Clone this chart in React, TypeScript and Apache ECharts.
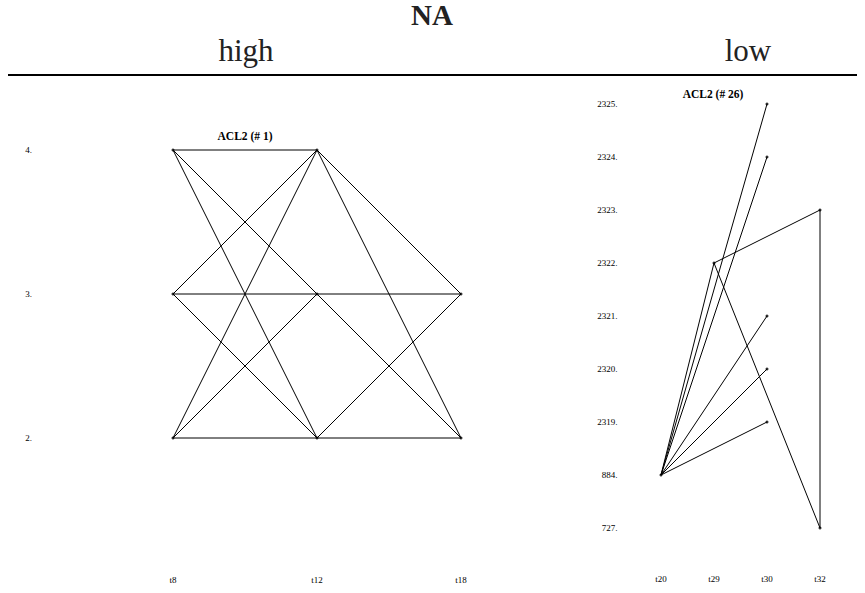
import React, { useEffect, useRef } from "react";
import * as echarts from "echarts";

const leftX = ["t8", "t12", "t18"];
const leftY = ["2", "3", "4"];
// edges: [fromX, fromY, toX, toY]
const leftEdges: string[][] = [
  ["t8", "4", "t12", "4"],
  ["t8", "4", "t12", "3"],
  ["t8", "4", "t12", "2"],
  ["t8", "3", "t12", "4"],
  ["t8", "3", "t12", "3"],
  ["t8", "3", "t12", "2"],
  ["t8", "2", "t12", "4"],
  ["t8", "2", "t12", "3"],
  ["t8", "2", "t12", "2"],
  ["t12", "4", "t18", "3"],
  ["t12", "4", "t18", "2"],
  ["t12", "3", "t18", "3"],
  ["t12", "3", "t18", "2"],
  ["t12", "2", "t18", "3"],
  ["t12", "2", "t18", "2"],
];

const rightX = ["t20", "t29", "t30", "t32"];
const rightY = ["727", "884", "2319", "2320", "2321", "2322", "2323", "2324", "2325"];
const rightEdges: string[][] = [
  ["t20", "884", "t29", "2322"],
  ["t20", "884", "t30", "2325"],
  ["t20", "884", "t30", "2324"],
  ["t20", "884", "t30", "2321"],
  ["t20", "884", "t30", "2320"],
  ["t20", "884", "t30", "2319"],
  ["t29", "2322", "t32", "2323"],
  ["t29", "2322", "t32", "727"],
  ["t32", "2323", "t32", "727"],
];

const FONT = "'Liberation Serif', 'DejaVu Serif', serif";

export default function App() {
  const ref = useRef<HTMLDivElement>(null);
  useEffect(() => {
    if (!ref.current) return;
    const chart = echarts.init(ref.current, undefined, { renderer: "svg" });

    const mkSeries = (
      edges: string[][],
      xs: string[],
      ys: string[],
      idx: number
    ) => {
      const series: any[] = edges.map((e) => ({
        type: "line",
        xAxisIndex: idx,
        yAxisIndex: idx,
        symbol: "none",
        silent: true,
        lineStyle: { color: "#000", width: 1 },
        data: [
          [xs.indexOf(e[0]), ys.indexOf(e[1])],
          [xs.indexOf(e[2]), ys.indexOf(e[3])],
        ],
      }));
      const pts: string[] = [];
      const pdata: number[][] = [];
      edges.forEach((e) => {
        [
          [e[0], e[1]],
          [e[2], e[3]],
        ].forEach(([x, y]) => {
          const k = x + "|" + y;
          if (pts.indexOf(k) < 0) {
            pts.push(k);
            pdata.push([xs.indexOf(x), ys.indexOf(y)]);
          }
        });
      });
      series.push({
        type: "scatter",
        xAxisIndex: idx,
        yAxisIndex: idx,
        symbolSize: 3,
        silent: true,
        itemStyle: { color: "#000" },
        data: pdata,
      });
      return series;
    };

    const axisCommon = {
      type: "category",
      boundaryGap: true,
      axisLine: { show: false },
      axisTick: { show: false },
      splitLine: { show: false },
    };
    const labelStyle = { fontFamily: FONT, fontSize: 9, color: "#000" };

    chart.setOption({
      animation: false,
      grid: [
        { left: 101, top: 78, width: 432, height: 432 },
        { left: 634.5, top: 77.5, width: 212, height: 477 },
      ],
      xAxis: [
        {
          ...axisCommon,
          gridIndex: 0,
          data: leftX,
          axisLabel: { ...labelStyle, margin: 65 },
        },
        {
          ...axisCommon,
          gridIndex: 1,
          data: rightX,
          axisLabel: { ...labelStyle, margin: 20 },
        },
      ],
      yAxis: [
        {
          ...axisCommon,
          gridIndex: 0,
          data: leftY,
          axisLabel: { ...labelStyle, margin: 69, formatter: (v: string) => v + "." },
        },
        {
          ...axisCommon,
          gridIndex: 1,
          data: rightY,
          axisLabel: { ...labelStyle, margin: 17, formatter: (v: string) => v + "." },
        },
      ],
      graphic: [
        {
          type: "text",
          x: 432,
          y: 15,
          style: {
            text: "NA",
            fontFamily: FONT,
            fontSize: 29,
            fontWeight: "bold",
            fill: "#222",
            align: "center",
            verticalAlign: "middle",
          },
        },
        {
          type: "text",
          x: 246,
          y: 50,
          style: {
            text: "high",
            fontFamily: FONT,
            fontSize: 31,
            fill: "#222",
            align: "center",
            verticalAlign: "middle",
          },
        },
        {
          type: "text",
          x: 748,
          y: 50,
          style: {
            text: "low",
            fontFamily: FONT,
            fontSize: 31,
            fill: "#222",
            align: "center",
            verticalAlign: "middle",
          },
        },
        {
          type: "line",
          shape: { x1: 8, y1: 75, x2: 857, y2: 75 },
          style: { stroke: "#000", lineWidth: 2 },
        },
        {
          type: "text",
          x: 245,
          y: 136,
          style: {
            text: "ACL2 (# 1)",
            fontFamily: FONT,
            fontSize: 11.5,
            fontWeight: "bold",
            fill: "#000",
            align: "center",
            verticalAlign: "middle",
          },
        },
        {
          type: "text",
          x: 713,
          y: 94,
          style: {
            text: "ACL2 (# 26)",
            fontFamily: FONT,
            fontSize: 11.5,
            fontWeight: "bold",
            fill: "#000",
            align: "center",
            verticalAlign: "middle",
          },
        },
      ],
      series: [
        ...mkSeries(leftEdges, leftX, leftY, 0),
        ...mkSeries(rightEdges, rightX, rightY, 1),
      ],
    });
    return () => chart.dispose();
  }, []);
  return (
    <div
      ref={ref}
      style={{ position: "fixed", left: 0, top: 0, width: 865, height: 593, background: "#fff" }}
    />
  );
}
